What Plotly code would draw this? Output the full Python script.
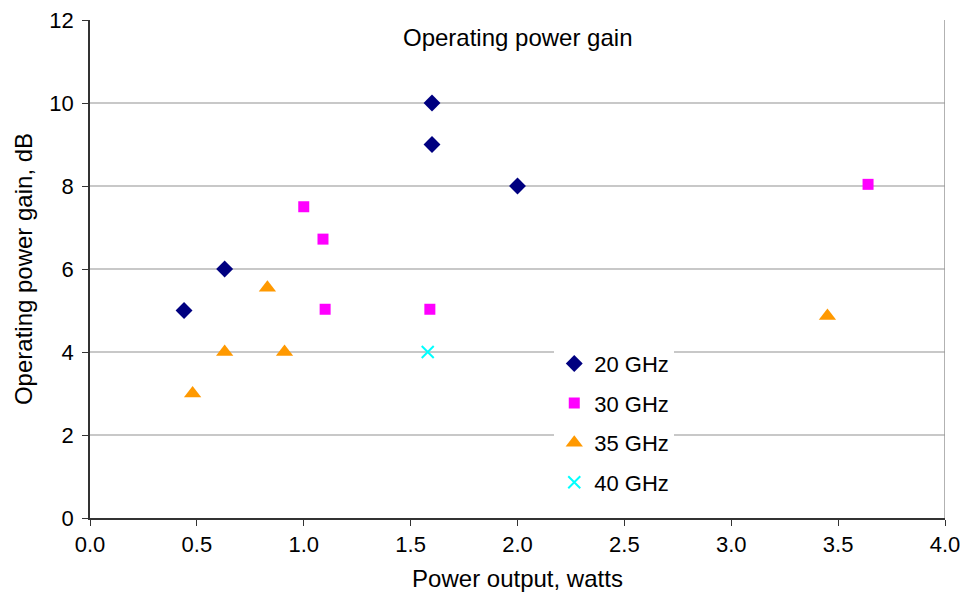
import plotly.graph_objects as go

# Measured operating power gain vs. output power, grouped by frequency
x_20ghz = [0.44, 0.63, 1.6, 1.6, 2.0]
y_20ghz = [5.0, 6.0, 10.0, 9.0, 8.0]

x_30ghz = [1.0, 1.09, 1.1, 1.59, 3.64]
y_30ghz = [7.5, 6.72, 5.03, 5.03, 8.04]

x_35ghz = [0.48, 0.63, 0.83, 0.91, 3.45]
y_35ghz = [3.0, 4.0, 5.55, 4.0, 4.87]

x_40ghz = [1.58]
y_40ghz = [4.0]

x_ticks = [0.0, 0.5, 1.0, 1.5, 2.0, 2.5, 3.0, 3.5, 4.0]
y_ticks = [0, 2, 4, 6, 8, 10, 12]

FONT = "Liberation Sans, Arial, sans-serif"

series = [
    ("20 GHz", x_20ghz, y_20ghz, "diamond", "#000080", 13),
    ("30 GHz", x_30ghz, y_30ghz, "square", "#FF00FF", 11),
    ("35 GHz", x_35ghz, y_35ghz, "triangle-up", "#FF9900", 15),
    ("40 GHz", x_40ghz, y_40ghz, "x-thin", "#00FFFF", 12),
]

fig = go.Figure()
for name, xs, ys, sym, col, size in series:
    fig.add_trace(go.Scatter(
        x=xs, y=ys, mode="markers", name=name, legendgroup=name,
        marker=dict(symbol=sym, color=col, size=size,
                    line=dict(color=col, width=2 if sym == "x-thin" else 0)),
    ))

# light right-hand border of the plot area
fig.add_shape(type="line", xref="x", yref="y", x0=4, x1=4, y0=0, y1=12,
              line=dict(color="#999999", width=1.5))

fig.update_layout(
    width=966, height=594,
    margin=dict(l=90, r=21, t=20, b=76),
    paper_bgcolor="white", plot_bgcolor="white",
    font=dict(family=FONT, size=23, color="black"),
    showlegend=True,
    legend=dict(x=0.543, y=0.352, xanchor="left", yanchor="top",
                bgcolor="white", font=dict(size=22, family=FONT),
                tracegroupgap=8, itemsizing="trace", itemwidth=30),
    annotations=[dict(text="Operating power gain", x=0.5, y=0.995,
                      xref="paper", yref="paper", showarrow=False,
                      xanchor="center", yanchor="top",
                      font=dict(size=24, family=FONT))],
)

fig.update_xaxes(
    range=[0, 4], tickvals=x_ticks, ticktext=[f"{v:.1f}" for v in x_ticks],
    tickfont=dict(size=22), automargin=False,
    showline=True, linecolor="#333333", linewidth=1.5,
    ticks="outside", ticklen=6, tickcolor="#333333",
    showgrid=False, zeroline=False,
    title=dict(text="Power output, watts", font=dict(size=24), standoff=14),
)
fig.update_yaxes(
    range=[0, 12], tickvals=y_ticks,
    tickfont=dict(size=22), automargin=False, ticklabelstandoff=4,
    showline=True, linecolor="#333333", linewidth=1.5,
    ticks="outside", ticklen=6, tickcolor="#333333",
    showgrid=True, gridcolor="#C8C8C8", gridwidth=1.5, zeroline=False,
    title=dict(text="Operating power gain, dB", font=dict(size=24), standoff=10),
)

fig.write_html("out.html")
